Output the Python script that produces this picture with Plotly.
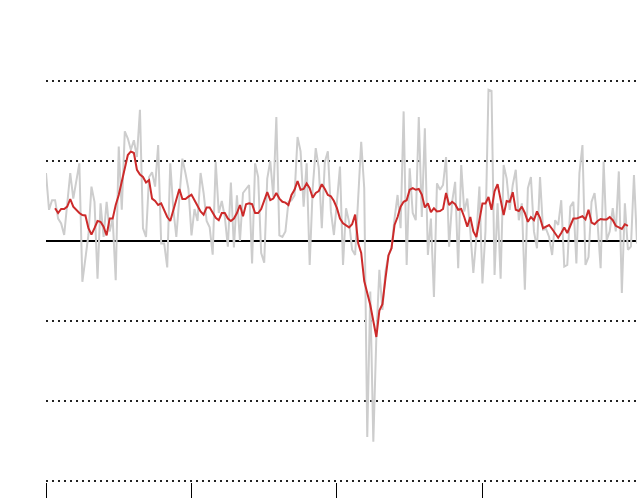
import plotly.graph_objects as go

# Noisy series (gray) and its smoothed trend (red)
gray_values = [
    0.85, 0.39, 0.51, 0.51, 0.28, 0.22, 0.075, 0.45, 0.85, 0.53,
    0.78, 0.97, -0.51, -0.22, 0.075, 0.68, 0.49, -0.47, 0.47, 0.05,
    0.49, 0.12, 0.28, -0.49, 1.18, 0.39, 1.37, 1.28, 1.14, 1.26,
    1.05, 1.64, 0.16, 0.05, 0.8, 0.86, 0.68, 1.2, -0.03, -0.03,
    -0.33, 0.97, 0.4, 0.05, 0.55, 1.03, 0.85, 0.65, 0.07, 0.4,
    0.25, 0.85, 0.6, 0.25, 0.17, -0.17, 0.99, 0.35, 0.5, 0.3,
    -0.07, 0.73, -0.08, 0.57, 0.0, 0.6, 0.65, 0.7, -0.28, 0.97,
    0.8, -0.15, -0.27, 0.78, 1.0, 0.55, 1.55, 0.07, 0.05, 0.12,
    0.49, 0.51, 0.57, 1.3, 1.12, 0.43, 0.97, -0.3, 0.66, 1.16,
    0.91, 0.16, 0.99, 1.12, 0.37, 0.075, 0.49, 0.93, -0.3, 0.41,
    0.24, -0.11, -0.175, 0.57, 1.24, 0.66, -2.45, -0.63, -2.51, -1.2,
    -0.36, -0.86, -0.38, -0.175, -0.09, 0.28, 0.575, 0.16, 1.62, -0.3,
    0.91, 0.35, 0.26, 1.55, 0.3, 1.41, -0.175, 0.28, -0.7, 0.72,
    0.64, 0.7, 1.05, -0.07, 0.49, 0.74, -0.34, 0.95, 0.37, 0.53,
    0.12, -0.4, 0.05, 0.68, -0.53, 0.12, 1.89, 1.875, -0.425, 0.47,
    -0.47, 0.95, 0.78, 0.39, 0.7, 0.89, 0.26, 0.47, -0.61, 0.66,
    0.8, 0.12, -0.09, 0.8, 0.14, 0.15, 0.05, -0.175, 0.26, 0.2,
    0.51, -0.32, -0.3, 0.43, 0.49, -0.28, 0.85, 1.2, -0.3, -0.2,
    0.49, 0.6, 0.22, -0.34, 0.99, 0.01, 0.12, 0.41, 0.12, 0.87,
    -0.65, 0.47, -0.11, -0.07, 0.825, -0.03,
]

red_start = 3
red_values = [
    0.41, 0.35, 0.40, 0.40, 0.43, 0.525, 0.43, 0.39, 0.35, 0.325,
    0.32, 0.16, 0.08, 0.16, 0.25, 0.24, 0.18, 0.07, 0.28, 0.28,
    0.45, 0.575, 0.74, 0.91, 1.075, 1.12, 1.10, 0.89, 0.83, 0.80,
    0.73, 0.76, 0.53, 0.50, 0.45, 0.47, 0.39, 0.30, 0.25, 0.39,
    0.51, 0.65, 0.525, 0.525, 0.555, 0.58, 0.51, 0.43, 0.37, 0.33,
    0.42, 0.42, 0.35, 0.29, 0.26, 0.35, 0.35, 0.28, 0.25, 0.28,
    0.35, 0.45, 0.31, 0.46, 0.47, 0.46, 0.35, 0.35, 0.40, 0.50,
    0.61, 0.51, 0.53, 0.60, 0.53, 0.49, 0.48, 0.45, 0.575, 0.64,
    0.75, 0.64, 0.65, 0.72, 0.66, 0.54, 0.60, 0.625, 0.71, 0.65,
    0.575, 0.56, 0.50, 0.41, 0.28, 0.22, 0.19, 0.17, 0.21, 0.33,
    -0.03, -0.15, -0.50, -0.65, -0.80, -1.00, -1.20, -0.87, -0.79, -0.47,
    -0.18, -0.09, 0.20, 0.30, 0.43, 0.49, 0.51, 0.64, 0.66, 0.64,
    0.65, 0.58, 0.42, 0.47, 0.36, 0.41, 0.37, 0.375, 0.40, 0.60,
    0.45, 0.49, 0.46, 0.39, 0.40, 0.30, 0.18, 0.30, 0.12, 0.05,
    0.26, 0.47, 0.47, 0.55, 0.39, 0.62, 0.71, 0.51, 0.325, 0.50,
    0.49, 0.61, 0.39, 0.375, 0.43, 0.35, 0.24, 0.30, 0.26, 0.37,
    0.29, 0.16, 0.18, 0.20, 0.15, 0.10, 0.04, 0.10, 0.17, 0.10,
    0.20, 0.28, 0.28, 0.30, 0.31, 0.27, 0.39, 0.23, 0.21, 0.25,
    0.275, 0.27, 0.27, 0.30, 0.26, 0.19, 0.17, 0.15, 0.21, 0.19,
]

x_tick_positions = [0, 48, 96, 144]
y_grid_values = [-2, -1, 0, 1, 2]
y_bottom_line = -3

gray_x = list(range(len(gray_values)))
red_x = list(range(red_start, red_start + len(red_values)))

fig = go.Figure()
fig.add_trace(go.Scatter(
    x=gray_x, y=gray_values, mode="lines",
    line=dict(color="#cdcdcd", width=2), hoverinfo="skip", showlegend=False,
))
fig.add_trace(go.Scatter(
    x=red_x, y=red_values, mode="lines",
    line=dict(color="#cc2a2a", width=2), hoverinfo="skip", showlegend=False,
))

# bottom dotted baseline (same style as grid)
fig.add_shape(
    type="line", xref="paper", x0=0, x1=1, yref="y",
    y0=y_bottom_line, y1=y_bottom_line, layer="below",
    line=dict(color="#222", width=2, dash="2px,4px"),
)

fig.update_layout(
    width=640, height=504,
    margin=dict(l=46, r=3, t=21, b=22),
    paper_bgcolor="white", plot_bgcolor="white",
    showlegend=False,
)
fig.update_xaxes(
    range=[0, len(gray_values) - 1],
    showgrid=False, zeroline=False, showline=False,
    tickmode="array", tickvals=x_tick_positions,
    ticks="outside", ticklen=15, tickwidth=1, tickcolor="#000",
    showticklabels=False,
)
fig.update_yaxes(
    range=[-3.0125, 2.75],
    tickmode="array", tickvals=y_grid_values,
    showticklabels=False, ticks="",
    showgrid=True, gridcolor="#222", gridwidth=2, griddash="2px,4px",
    zeroline=True, zerolinecolor="#000", zerolinewidth=2,
    showline=False,
)

fig.write_html(
    "out.html",
    config={"displayModeBar": False, "staticPlot": True},
    post_script="document.body.style.margin='0';document.body.style.overflow='hidden';",
)
